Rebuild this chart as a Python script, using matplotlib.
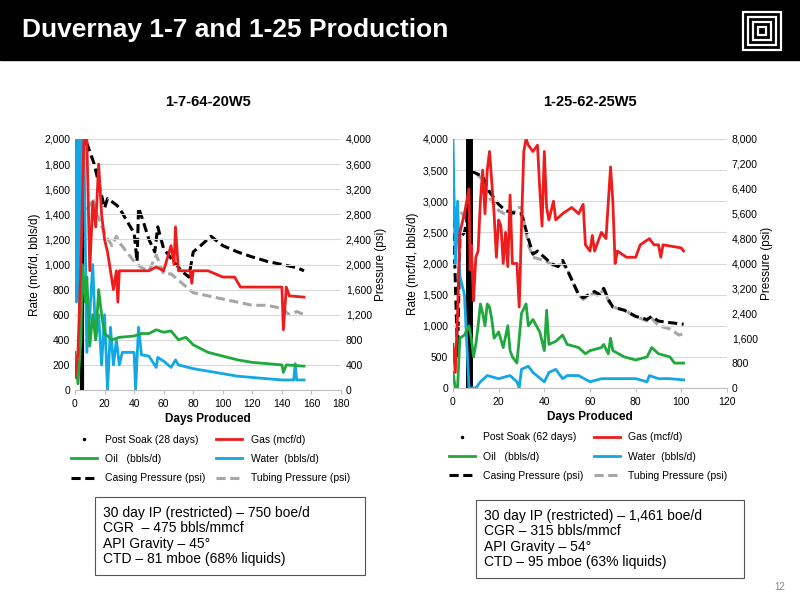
import matplotlib
matplotlib.use("Agg")
import matplotlib.pyplot as plt
from matplotlib.lines import Line2D
from matplotlib.patches import Rectangle

plt.rcParams['font.family'] = ['Liberation Sans', 'DejaVu Sans']

# ---- Left well 1-7-64-20W5 ----
L_gas_x = [0,2,4,6,8,10,12,14,16,18,20,22,24,26,28,29,30,40,50,55,60,65,67,68,70,78,79,80,90,100,108,112,120,130,140,141,143,145,155]
L_gas_y = [100,300,1000,2000,2000,950,1500,1300,1800,1400,1200,1100,950,800,950,700,950,950,950,980,950,1150,1000,1300,950,950,850,950,950,900,900,820,820,820,820,480,820,750,740]
L_oil_x = [0,2,4,5,7,8,10,12,14,16,18,20,25,30,40,45,50,55,60,65,70,75,80,85,90,100,110,120,130,140,141,143,155]
L_oil_y = [300,50,400,1000,700,900,350,600,400,800,600,450,400,420,430,450,450,480,460,470,400,420,360,330,300,270,240,220,210,200,140,200,190]
L_wat_x = [0,1,2,3,4,5,6,8,10,12,14,16,18,20,22,24,26,28,30,32,40,41,43,45,50,55,56,60,65,68,70,80,90,100,110,120,130,140,148,149,150,155]
L_wat_y = [2000,700,2000,600,2000,1600,2000,300,600,1000,400,600,200,600,0,500,200,400,200,300,300,0,500,280,270,180,260,230,180,240,200,170,150,130,110,100,90,80,80,210,80,80]
L_cas_x = [0,3,5,7,10,13,17,20,22,28,30,40,42,43,46,50,54,56,60,65,72,77,80,85,92,100,110,120,130,140,150,155]
L_cas_y = [4000,3600,3800,4000,3800,3600,3200,2900,3050,2950,2900,2500,2050,2900,2700,2400,2200,2600,2250,2100,1900,1800,2200,2300,2450,2300,2200,2120,2050,2000,1950,1900]
L_tub_x = [0,3,5,6,10,12,15,20,25,28,30,35,40,45,50,55,60,65,70,80,90,100,110,120,130,140,145,150,155]
L_tub_y = [3600,2400,3600,2800,2950,3050,2800,2500,2300,2450,2350,2200,2050,1950,1900,2150,1850,1850,1750,1550,1500,1450,1400,1350,1350,1300,1200,1250,1200]
L_soak = 5

# ---- Right well 1-25-62-25W5 ----
R_gas_x = [0,1,2,3,5,7,7.5,8,9,10,11,12,13,14,15,16,17,18,19,20,21,22,23,24,25,26,28,29,30,31,32,33,35,37,38,39,40,41,42,44,45,48,52,55,57,58,60,61,62,65,67,69,70,71,72,76,80,82,86,88,90,91,92,100,101]
R_gas_y = [700,250,1200,2500,2800,3200,1900,2300,1400,2100,2200,3000,3500,2800,3500,3800,3300,2800,2100,2700,2600,2000,2500,1950,3100,2000,2000,1300,2600,3800,4000,3900,3800,3900,3200,2600,3800,2900,2700,3000,2700,2800,2900,2800,2950,2300,2200,2450,2200,2500,2400,3550,3000,2000,2200,2100,2100,2300,2400,2300,2300,2100,2300,2250,2200]
R_oil_x = [0,1,2,3,5,7,8,9,10,11,12,13,14,15,16,17,18,20,22,24,25,26,28,30,32,33,35,38,40,41,42,45,48,50,55,58,60,65,66,68,69,70,75,80,85,87,90,95,97,101]
R_oil_y = [250,0,0,800,850,1000,800,500,700,1000,1350,1200,1000,1350,1300,1100,800,900,650,1000,600,500,400,1200,1350,1000,1100,900,600,1250,700,750,850,700,650,550,600,650,700,550,800,600,500,450,500,650,550,500,400,400]
R_wat_x = [0,1,2,3,5,7,8,10,12,15,20,25,28,29,30,33,35,40,42,45,48,50,55,60,65,70,75,80,85,86,90,95,101]
R_wat_y = [4000,2000,3000,1800,1500,0,0,0,100,200,150,200,100,0,300,350,250,100,250,300,150,200,200,100,150,150,150,150,100,200,150,150,130]
R_cas_x = [0,2,3,5,6,7,10,13,16,20,23,28,30,33,35,37,40,43,46,48,50,55,57,62,64,66,68,70,75,80,85,87,90,95,101]
R_cas_y = [5900,1000,4800,5000,5300,7000,6900,6800,6300,5900,5700,5600,5600,4800,4300,4400,4200,4000,3900,4100,3800,3000,2900,3100,3000,3200,2850,2600,2500,2300,2200,2300,2150,2100,2050]
R_tub_x = [0,1,3,5,6,7,10,13,16,20,25,28,30,33,35,40,45,48,50,55,57,62,64,66,68,70,75,80,85,87,90,95,99,101]
R_tub_y = [5600,5800,5700,5500,5400,7000,6900,6700,6100,5700,5500,5800,5800,4600,4200,4100,3900,4000,3800,3000,2850,3050,2950,3200,2800,2600,2500,2300,2150,2250,2000,1900,1700,1750]
R_soak = 7

RED = '#ee1c1c'; GREEN = '#1fa83c'; BLUE = '#12a8e6'; GRAY = '#a6a6a6'

fig = plt.figure(figsize=(8, 6), dpi=100)
fig.patch.set_facecolor('white')

# title bar
fig.patches.append(Rectangle((0, 1-60/600), 1, 60/600, transform=fig.transFigure, color='black', zorder=0))
fig.text(22/800, 1-30/600, "Duvernay 1-7 and 1-25 Production", color='white', fontsize=19, fontweight='bold', va='center')
for i, s in enumerate([38, 28, 18, 8]):
    cx, cy = 762/800, 1-31/600
    fig.patches.append(Rectangle((cx - s/2/800, cy - s/2/600), s/800, s/600, transform=fig.transFigure,
                                 fill=False, ec='white', lw=1.6))

def panel(rect, xmax, xstep, ymax, ystep, y2max, y2step, gas, oil, wat, cas, tub, soak, title, soaklabel):
    ax = fig.add_axes(rect)
    ax2 = ax.twinx()
    ax.set_zorder(ax2.get_zorder() + 1); ax.patch.set_visible(False)
    ax2.plot(*tub, color=GRAY, lw=2.2, ls=(0, (3, 1.5)))
    ax2.plot(*cas, color='black', lw=2.2, ls=(0, (3, 1.5)))
    ax.axvline(soak, color='black', lw=3 if soak == 5 else 5)
    ax.plot(*wat, color=BLUE, lw=2)
    ax.plot(*oil, color=GREEN, lw=2)
    ax.plot(*gas, color=RED, lw=2)
    ax.set_xlim(0, xmax); ax.set_ylim(0, ymax); ax2.set_ylim(0, y2max)
    ax.set_xticks(range(0, xmax + 1, xstep))
    ax.set_yticks(range(0, ymax + 1, ystep))
    ax2.set_yticks(range(0, y2max + 1, y2step))
    ax.yaxis.set_major_formatter(matplotlib.ticker.StrMethodFormatter('{x:,.0f}'))
    ax2.yaxis.set_major_formatter(matplotlib.ticker.StrMethodFormatter('{x:,.0f}'))
    ax.grid(axis='y', color='#d9d9d9', lw=0.8); ax.set_axisbelow(True)
    for a in (ax, ax2):
        for sp in a.spines.values(): sp.set_visible(False)
        a.tick_params(labelsize=7.5, length=0)
    ax.spines['bottom'].set_visible(True); ax.spines['bottom'].set_color('#bfbfbf')
    ax.tick_params(axis='x', length=3, color='#bfbfbf')
    ax.set_xlabel('Days Produced', fontsize=8.5, fontweight='bold', labelpad=3)
    ax.set_ylabel('Rate (mcf/d, bbls/d)', fontsize=8.5, labelpad=2)
    ax2.set_ylabel('Pressure (psi)', fontsize=8.5, labelpad=2)
    ax.set_title(title, fontsize=10.5, fontweight='bold', pad=24)
    handles = [Line2D([], [], color='black', marker='.', ms=3, ls='none'),
               Line2D([], [], color=RED, lw=2),
               Line2D([], [], color=GREEN, lw=2),
               Line2D([], [], color=BLUE, lw=2),
               Line2D([], [], color='black', lw=2.2, ls=(0, (3, 1.5))),
               Line2D([], [], color=GRAY, lw=2.2, ls=(0, (3, 1.5)))]
    labels = [soaklabel, 'Gas (mcf/d)', 'Oil   (bbls/d)', 'Water  (bbls/d)', 'Casing Pressure (psi)', 'Tubing Pressure (psi)']
    order = [0, 2, 4, 1, 3, 5]
    ax.legend([handles[i] for i in order], [labels[i] for i in order], ncol=2, frameon=False,
              fontsize=7.5, loc='upper left', bbox_to_anchor=(-0.05, -0.14), handlelength=2.5,
              columnspacing=1.0, labelspacing=0.9)
    return ax

panel([75/800, 1-390/600, 266/800, 251/600], 180, 20, 2000, 200, 4000, 400,
      (L_gas_x, L_gas_y), (L_oil_x, L_oil_y), (L_wat_x, L_wat_y), (L_cas_x, L_cas_y), (L_tub_x, L_tub_y),
      L_soak, '1-7-64-20W5', 'Post Soak (28 days)')
panel([453/800, 1-388/600, 274/800, 249/600], 120, 20, 4000, 500, 8000, 800,
      (R_gas_x, R_gas_y), (R_oil_x, R_oil_y), (R_wat_x, R_wat_y), (R_cas_x, R_cas_y), (R_tub_x, R_tub_y),
      R_soak, '1-25-62-25W5', 'Post Soak (62 days)')

boxes = [((95, 497, 270, 78), "30 day IP (restricted) \u2013 750 boe/d\nCGR  \u2013 475 bbls/mmcf\nAPI Gravity \u2013 45\u00b0\nCTD \u2013 81 mboe (68% liquids)"),
         ((476, 500, 268, 78), "30 day IP (restricted) \u2013 1,461 boe/d\nCGR \u2013 315 bbls/mmcf\nAPI Gravity \u2013 54\u00b0\nCTD \u2013 95 mboe (63% liquids)")]
for (x, y, w, h), txt in boxes:
    fig.patches.append(Rectangle((x/800, 1-(y+h)/600), w/800, h/600, transform=fig.transFigure,
                                 fill=False, ec='#555555', lw=0.8))
    fig.text((x+8)/800, 1-(y+h/2)/600, txt, fontsize=10, va='center', linespacing=1.15)

fig.text(785/800, 1-587/600, '12', fontsize=7, color='#888888', ha='right', va='center')
fig.savefig('out.png', dpi=100)
